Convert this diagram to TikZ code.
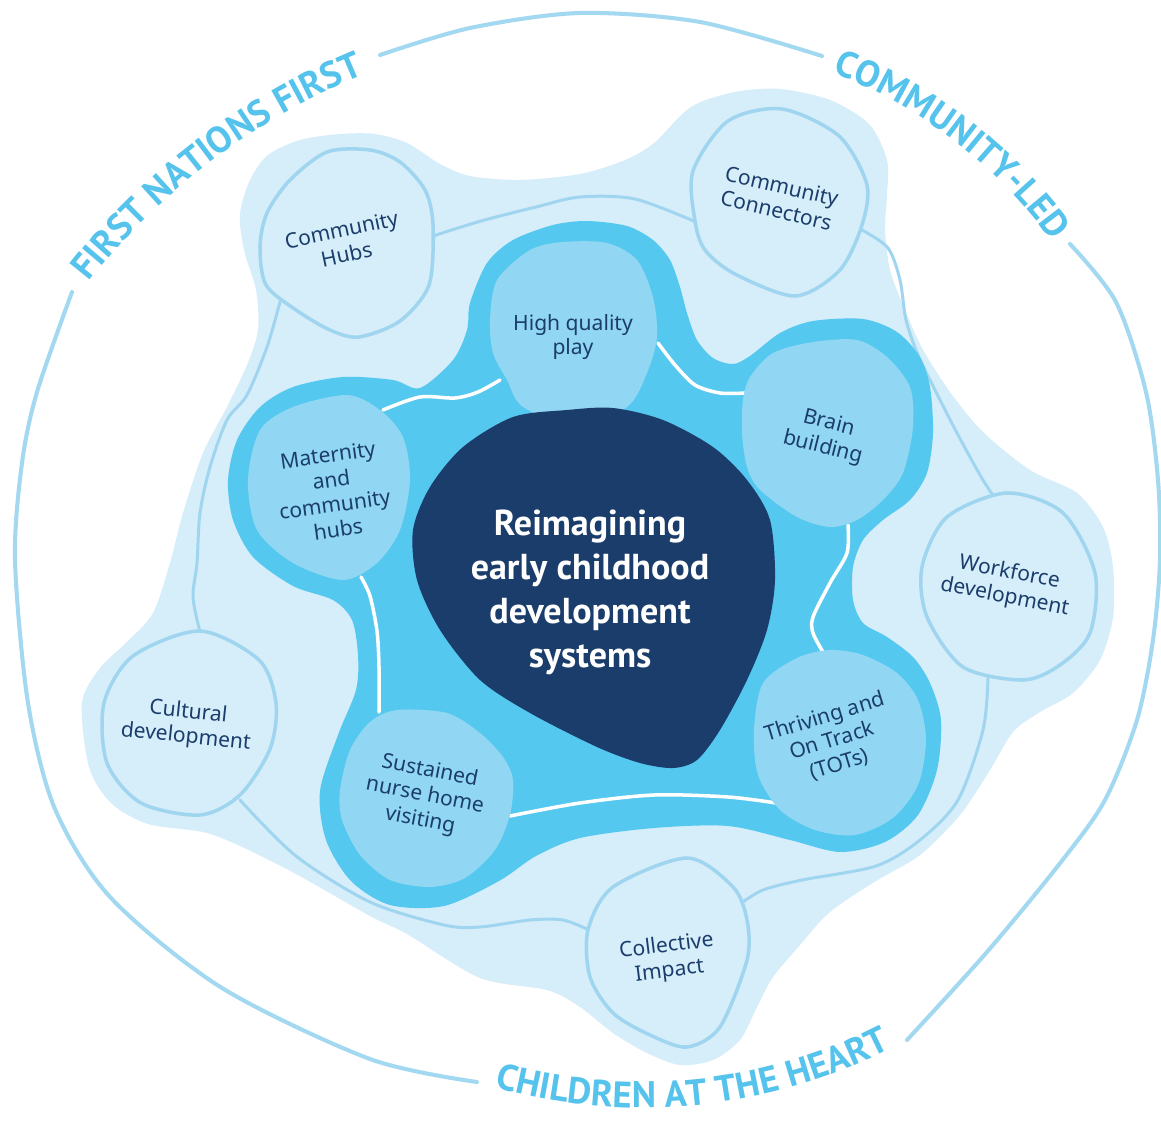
\documentclass[tikz,border=0pt]{standalone}
\usepackage{fontspec}
\setmainfont{Noto Sans}
\newfontfamily\ptsans{PT Sans}
\usetikzlibrary{decorations.text}
\definecolor{ringline}{HTML}{A3D8F1}
\definecolor{ringtext}{HTML}{55C3EB}
\definecolor{paleblue}{HTML}{D6EDFA}
\definecolor{rimblue}{HTML}{A0D5F0}
\definecolor{cyanblob}{HTML}{55C8EF}
\definecolor{innerblue}{HTML}{91D7F3}
\definecolor{navy}{HTML}{1B3D6B}
\begin{document}
\begin{tikzpicture}[x=0.02cm,y=-0.02cm,
  ring/.style={draw=ringline, line width=2.3pt, line cap=round},
  ringlabel/.style={decorate, decoration={text along path, text align=center,
      text color=ringtext, text={|\ptsans\bfseries\fontsize{21}{21}\selectfont|#1}}},
  outercircle/.style={fill=paleblue, draw=rimblue, line width=2pt},
  innercircle/.style={fill=innerblue},
  outerlink/.style={draw=rimblue, line width=1.7pt, line cap=round},
  innerlink/.style={draw=white, line width=2pt, line cap=round},
  label/.style={text=navy, align=center, inner sep=0pt, font=\fontsize{12}{14.2}\selectfont},
  centrelabel/.style={text=white, align=center, inner sep=0pt, font=\ptsans\bfseries\fontsize{20.5}{25}\selectfont}]

\useasboundingbox (0,0) rectangle (1161,1122);
\fill[white] (0,0) rectangle (1161,1122);

% outer ring, broken where the three principles are written
\draw[ring] plot[smooth] coordinates {(380,55) (470,28) (580,13) (700,22) (822,56)};
\draw[ring] plot[smooth] coordinates {(1070,244) (1116,302) (1146,392) (1158,480) (1160,560) (1153,640) (1137,720) (1105,800) (1061,862) (987,952) (907,1040)};
\draw[ring] plot[smooth] coordinates {(72,292) (37,392) (22,463) (15,560) (28,703) (55,809) (111,898) (222,988) (370,1059) (477,1082)};

\path[ringlabel={FIRST NATIONS FIRST}] (620,700) ++(-145:676) arc[start angle=-145, end angle=-109, radius=676];
\path[ringlabel={COMMUNITY-LED}] (660,525) ++(-70:484) arc[start angle=-70, end angle=-35, radius=484];
\path[ringlabel={CHILDREN AT THE HEART}] (643,561) ++(106.4:547) arc[start angle=106.4, end angle=62.4, radius=547];

% pale outer field
\fill[paleblue] plot[smooth cycle] coordinates {
 (244,250) (240,214) (250,180) (268,155) (300,140) (340,134) (375,134) (407,143) (440,164) (470,176)
 (520,180) (580,174) (625,160) (654,143) (691,107) (735,92) (780,89) (830,100) (869,124) (887,160)
 (887,195) (885,230) (890,270) (903,305) (922,348) (950,392) (983,432) (1030,470) (1077,493) (1103,527)
 (1113,567) (1113,617) (1100,660) (1073,693) (1040,712) (1013,732) (990,770) (960,815) (920,855) (876,881)
 (830,912) (800,945) (773,977) (757,1007) (740,1040) (713,1060) (680,1065) (647,1053) (613,1033) (580,1007)
 (547,990) (480,978) (407,934) (370,916) (296,874) (240,846) (203,832) (148,824) (111,803) (89,767)
 (82,703) (100,668) (127,642) (153,613) (170,563) (183,513) (203,453) (227,407) (247,365) (258,330) (256,290)};

% connector end points on the outer circles
\coordinate (hubsE) at (433,236);
\coordinate (hubsS) at (280,302);
\coordinate (connW) at (696,222);
\coordinate (connSE) at (862,230);
\coordinate (workN) at (992,494);
\coordinate (workS) at (988,678);
\coordinate (collNE) at (740,904);
\coordinate (collW) at (589,930);
\coordinate (cultN) at (200,632);
\coordinate (cultSE) at (240,800);

% outer links
\draw[outerlink] plot[smooth] coordinates {(hubsE) (481,221) (536,207) (580,197) (635,199) (connW)};
\draw[outerlink] plot[smooth] coordinates {(hubsS) (267,347) (247,395) (227,420) (210,467) (200,513) (197,563) (193,597) (cultN)};
\draw[outerlink] plot[smooth] coordinates {(connSE) (888,248) (900,280) (906,320) (918,355) (935,390) (957,433) (980,475) (workN)};
\draw[outerlink] plot[smooth] coordinates {(workS) (983,730) (958,800) (920,840) (876,866) (802,880) (763,890) (collNE)};
\draw[outerlink] plot[smooth] coordinates {(collW) (563,920) (530,920) (480,927) (444,925) (370,902) (296,856) (cultSE)};

% outer circles
\filldraw[outercircle] plot[smooth cycle] coordinates {(327,152) (370,150) (400,162) (425,190) (433,225) (429,285) (400,321) (359,337) (330,330) (296,310) (266,285) (260,247) (267,213) (290,180)};
\filldraw[outercircle] plot[smooth cycle] coordinates {(782,109) (839,136) (867,185) (861,228) (839,271) (795,296) (735,274) (705,250) (695,221) (693,171) (728,121)};
\filldraw[outercircle] plot[smooth cycle] coordinates {(1007,493) (1063,513) (1095,573) (1090,633) (1060,665) (1023,680) (963,667) (927,617) (922,567) (947,517)};
\filldraw[outercircle] plot[smooth cycle] coordinates {(200,631) (259,660) (276,703) (270,749) (240,795) (200,815) (141,803) (107,763) (104,703) (133,656)};
\filldraw[outercircle] plot[smooth cycle] coordinates {(687,858) (733,887) (747,920) (747,960) (720,1027) (687,1047) (650,1035) (613,1013) (590,977) (588,930) (613,887)};

% cyan middle field
\fill[cyanblob] plot[smooth cycle] coordinates {
 (513,240) (553,225) (587,221) (627,226) (653,240) (670,260) (680,287) (687,313) (697,340) (713,358)
 (733,364) (750,356) (780,333) (813,321) (863,319) (897,332) (920,357) (930,387) (933,433) (927,473)
 (910,500) (883,520) (863,540) (853,567) (853,600) (863,623) (887,637) (913,657) (930,683) (941,720)
 (937,770) (918,815) (885,842) (840,852) (790,840) (728,826) (654,828) (580,838) (536,856) (499,881)
 (444,906) (390,905) (351,881) (326,840) (320,791) (338,735) (356,690) (358,655) (352,620) (333,600)
 (293,586) (253,557) (233,520) (228,480) (237,440) (260,407) (293,387) (343,377) (393,380) (420,388)
 (453,360) (467,330) (470,303) (487,263)};

% connector end points on the inner circles
\coordinate (matNE) at (383,410);
\coordinate (matS) at (361,577);
\coordinate (hqSW) at (500,380);
\coordinate (hqE) at (658,343);
\coordinate (brainW) at (745,393);
\coordinate (brainS) at (848,525);
\coordinate (thrN) at (823,652);
\coordinate (thrSW) at (776,803);
\coordinate (susE) at (510,816);
\coordinate (susN) at (379,712);

% inner links
\draw[innerlink] plot[smooth] coordinates {(matNE) (420,397) (455,398) (478,392) (hqSW)};
\draw[innerlink] plot[smooth] coordinates {(hqE) (675,365) (695,385) (720,393) (brainW)};
\draw[innerlink] plot[smooth] coordinates {(brainS) (847,553) (830,583) (813,617) (813,633) (thrN)};
\draw[innerlink] plot[smooth] coordinates {(thrSW) (728,797) (654,795) (580,803) (susE)};
\draw[innerlink] plot[smooth] coordinates {(matS) (370,596) (377,631) (379,667) (susN)};

% inner circles
\fill[innercircle] plot[smooth cycle] coordinates {(490,320) (497,280) (530,250) (563,242) (607,243) (637,260) (653,297) (657,337) (647,373) (627,407) (575,425) (523,407) (507,380) (493,353)};
\fill[innercircle] plot[smooth cycle] coordinates {(347,395) (380,410) (403,437) (410,480) (400,530) (377,563) (343,580) (293,563) (257,530) (248,480) (260,430) (293,407)};
\fill[innercircle] plot[smooth cycle] coordinates {(813,342) (857,340) (887,357) (910,387) (913,427) (903,473) (883,500) (857,520) (830,527) (797,517) (760,490) (747,467) (742,433) (743,400) (750,377) (773,353)};
\fill[innercircle] plot[smooth cycle] coordinates {(763,683) (797,658) (830,650) (863,655) (897,673) (918,700) (926,740) (918,785) (893,818) (855,835) (815,830) (780,810) (758,775) (754,730)};
\fill[innercircle] plot[smooth cycle] coordinates {(397,710) (447,713) (480,733) (503,757) (513,780) (510,815) (495,850) (465,878) (430,887) (390,880) (360,855) (342,820) (340,790) (350,750) (370,722)};

% dark core
\fill[navy] plot[smooth cycle] coordinates {(567,410) (613,408) (663,420) (713,447) (747,480) (770,520) (775,580) (767,630) (747,680) (720,730) (697,760) (673,768) (640,763) (597,747) (530,713) (480,680) (440,630) (417,580) (413,530) (430,487) (463,447) (513,417)};

% labels
\node[centrelabel] (core) at (590,592) {Reimagining\\early childhood\\development\\systems};
\node[label, rotate=12] (hubs) at (344,242) {Community\\Hubs};
\node[label, rotate=-13] (connectors) at (779,198) {Community\\Connectors};
\node[label] (play) at (573,337) {High quality\\play};
\node[label, rotate=8] (maternity) at (333,492) {Maternity\\and\\community\\hubs};
\node[label, rotate=-14] (brain) at (826,436) {Brain\\building};
\node[label, rotate=-11] (workforce) at (1007,585) {Workforce\\development};
\node[label, rotate=-6] (cultural) at (187,725) {Cultural\\development};
\node[label, rotate=-11] (nurse) at (425,796) {Sustained\\nurse home\\visiting};
\node[label, rotate=17] (tots) at (832,741) {Thriving and\\On Track\\(TOTs)};
\node[label, rotate=7] (impact) at (668,959) {Collective\\Impact};
\end{tikzpicture}
\end{document}
